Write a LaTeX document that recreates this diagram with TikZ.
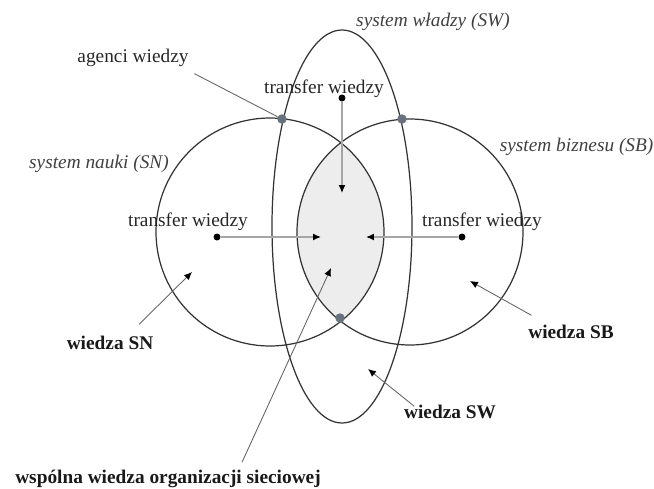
\documentclass[tikz,border=0pt]{standalone}
\usepackage{fontspec}
\setmainfont{Liberation Serif}
\usetikzlibrary{arrows.meta,calc}
\definecolor{agentgray}{RGB}{104,114,126}

\begin{document}
\begin{tikzpicture}[x=0.02cm, y=-0.02cm,
  ring/.style = {draw=black!80, line width=0.7pt},
  lbl/.style = {font=\fontsize{11}{13}\selectfont, text=black!85, inner sep=2pt},
  sys/.style = {font=\fontsize{11}{13}\selectfont\itshape, text=black!75, inner sep=2pt},
  kn/.style = {font=\fontsize{11}{13}\selectfont\bfseries, text=black!90, inner sep=2pt},
  src/.style = {circle, fill=black, inner sep=0pt, minimum size=0.14cm},
  agent/.style = {circle, fill=agentgray, inner sep=0pt, minimum size=0.19cm},
  flow/.style = {draw=black!35, line width=0.8pt, -{Latex[length=4.5pt,width=4pt,color=black]}},
  lead/.style = {draw=black!60, line width=0.5pt},
  pointer/.style = {lead, -{Latex[length=4.5pt,width=4pt,color=black]}}]
\useasboundingbox (0,0) rectangle (654,488);

% wspolna czesc SN i SB
\begin{scope}
\clip (270,232) circle [radius=114];
\fill[black!7] (410,232) circle [radius=113];
\end{scope}

% systemy
\draw[ring] (270,232) circle [radius=114];
\draw[ring] (410,232) circle [radius=113];
\draw[ring] (342,226.5) ellipse [x radius=70, y radius=196.5];

% opisy systemow
\node[sys] (sn) at (99,164) {system nauki (SN)};
\node[sys] (sw) at (433,22) {system władzy (SW)};
\node[sys, anchor=west] (sb) at (496,147) {system biznesu (SB)};

% transfer wiedzy
\node[lbl] (tTop) at (324,89) {transfer wiedzy};
\node[lbl] (tLeft) at (188,222) {transfer wiedzy};
\node[lbl] (tRight) at (482,222) {transfer wiedzy};
\node[src] (s1) at (342,98) {};
\node[src] (s2) at (217,237) {};
\node[src] (s3) at (462,237) {};
\coordinate (c1) at (342,193);
\coordinate (c2) at (321,237);
\coordinate (c3) at (366,237);
\draw[flow] (s1) -- (c1);
\draw[flow] (s2) -- (c2);
\draw[flow] (s3) -- (c3);

% agenci wiedzy
\node[lbl] (agenci) at (133,58) {agenci wiedzy};
\node[agent] (a1) at (282,119) {};
\node[agent] (a2) at (402,119) {};
\node[agent] (a3) at (340,318) {};
\draw[lead] ($(agenci.south east)+(2,3)$) -- (a1);

% wiedza
\node[kn] (wsn) at (110,343) {wiedza SN};
\node[kn] (wsb) at (571,332) {wiedza SB};
\node[kn] (wsw) at (450,412) {wiedza SW};
\node[kn] (wsp) at (168,479) {wspólna wiedza organizacji sieciowej};
\coordinate (pSN) at (192,272);
\coordinate (pSB) at (470,281);
\coordinate (pSW) at (368,369);
\coordinate (pSP) at (331,268);
\draw[pointer] ($(wsn.north east)+(-18,-8)$) -- (pSN);
\draw[pointer] ($(wsb.north west)+(7,-6)$) -- (pSB);
\draw[pointer] ($(wsw.north west)+(14,5)$) -- (pSW);
\draw[pointer] ($(wsp.north)+(74,-4)$) -- (pSP);
\end{tikzpicture}
\end{document}
